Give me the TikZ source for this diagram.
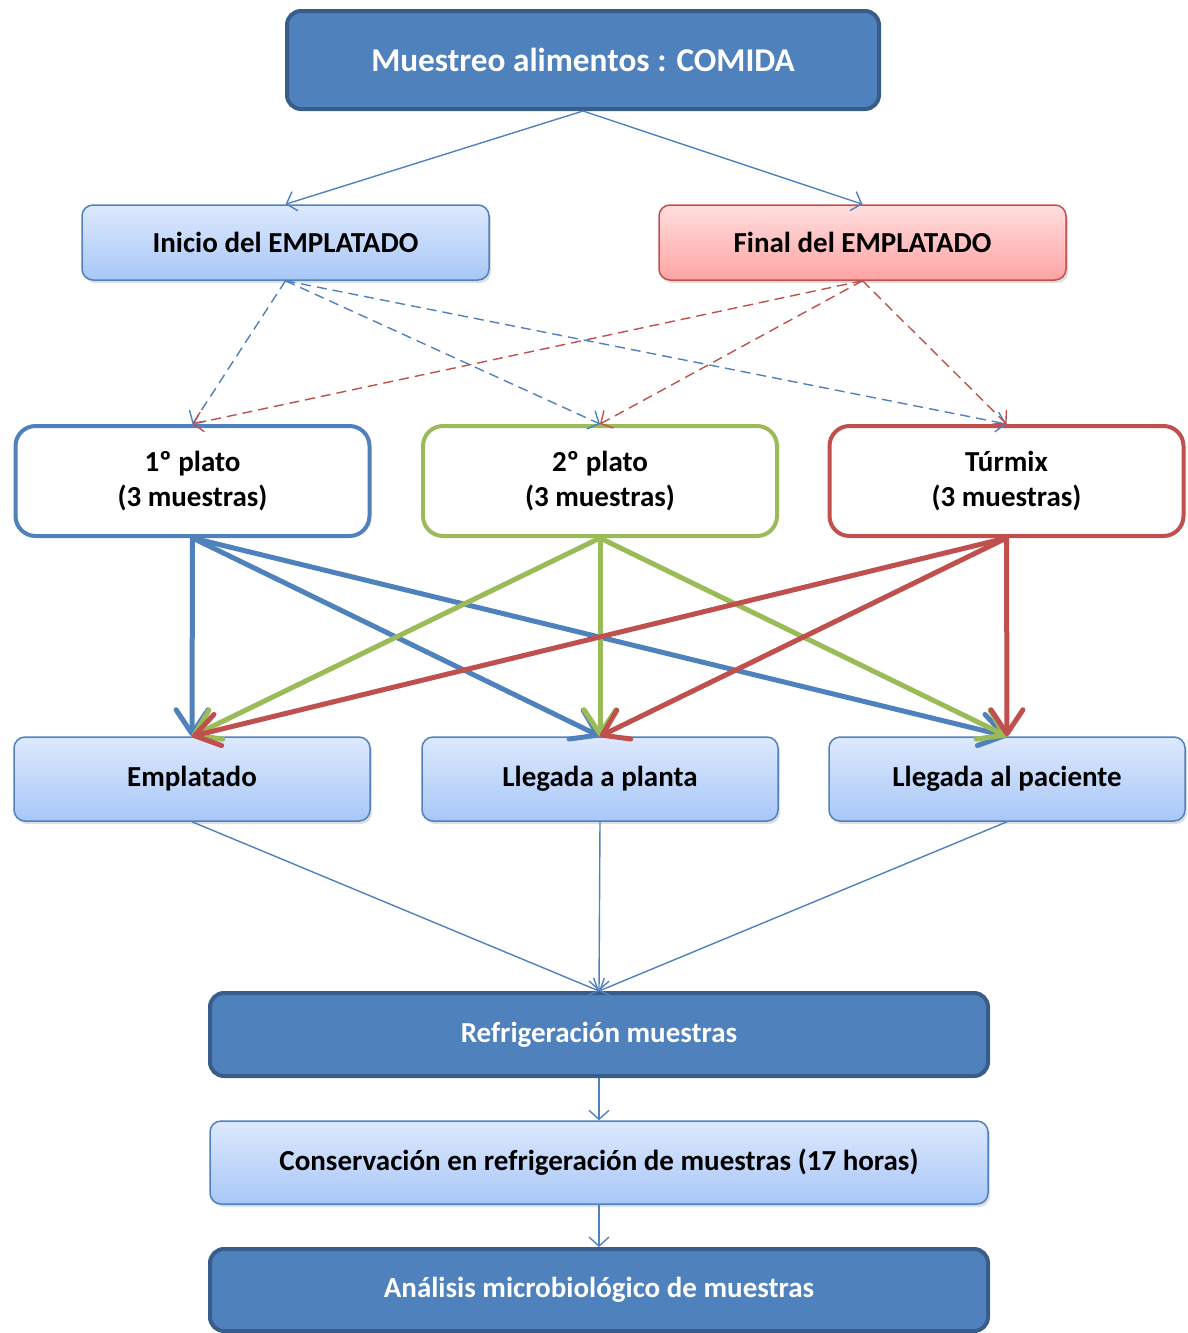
\documentclass[tikz,border=0pt]{standalone}
\usepackage{fontspec}
\setmainfont{Carlito}
\usetikzlibrary{arrows.meta,shadows}
\definecolor{accblue}{HTML}{4F81BD}
\definecolor{accbluedark}{HTML}{385D8A}
\definecolor{accgreen}{HTML}{9BBB59}
\definecolor{accred}{HTML}{C0504D}
\definecolor{lbtop}{HTML}{DDE9FD}
\definecolor{lbbot}{HTML}{A8C7F8}
\definecolor{lrtop}{HTML}{FFDEDE}
\definecolor{lrbot}{HTML}{FFA3A3}
\tikzset{
  txt/.style={font=\fontsize{29}{35}\selectfont\bfseries, align=center},
  darkbox/.style={txt, draw=accbluedark, line width=4pt, fill=accblue,
    text=white, rounded corners=14pt},
  lightbox/.style={txt, draw=accblue, line width=1.5pt, rounded corners=11pt,
    top color=lbtop, bottom color=lbbot,
    drop shadow={opacity=0.25, shadow xshift=2pt, shadow yshift=-3pt}},
  pinkbox/.style={lightbox, draw=accred, top color=lrtop, bottom color=lrbot},
  platebox/.style={txt, line width=4pt, fill=white, rounded corners=20pt,
    minimum width=354pt, minimum height=110pt},
  thin/.style={accblue, line width=1.4pt, -{Straight Barb[length=9pt,width=20pt]}},
  dashblue/.style={accblue, line width=1.4pt, dash pattern=on 10pt off 6pt,
    -{Straight Barb[length=9pt,width=20pt]}},
  dashred/.style={dashblue, accred},
  thick/.style={line width=5pt, -{Straight Barb[length=24pt,width=32pt,round]}},
}
\begin{document}
\begin{tikzpicture}[x=1pt,y=-1pt]
\useasboundingbox (0,0) rectangle (1187,1333);

% top and second row
\node[darkbox, minimum width=592pt, minimum height=98pt,
  font=\fontsize{33.3}{40}\selectfont\bfseries] (top) at (583,60) {Muestreo alimentos : COMIDA};
\node[lightbox, minimum width=407pt, minimum height=75pt] (ini) at (285.5,242.5) {Inicio del EMPLATADO};
\node[pinkbox, minimum width=407pt, minimum height=75pt] (fin) at (862.5,242.5) {Final del EMPLATADO};

% the three dishes
\node[platebox, draw=accblue] (p1) at (192.5,481) {1º plato\\(3 muestras)};
\node[platebox, draw=accgreen] (p2) at (600,481) {2º plato\\(3 muestras)};
\node[platebox, draw=accred] (p3) at (1006.5,481) {Túrmix\\(3 muestras)};

% sampling moments
\node[lightbox, minimum width=356pt, minimum height=84pt] (s1) at (192,779) {Emplatado};
\node[lightbox, minimum width=356pt, minimum height=84pt] (s2) at (600,779) {Llegada a planta};
\node[lightbox, minimum width=356pt, minimum height=84pt] (s3) at (1007,779) {Llegada al paciente};

% final steps
\node[darkbox, minimum width=778pt, minimum height=83pt] (refr) at (599,1034.5) {Refrigeración muestras};
\node[lightbox, minimum width=778pt, minimum height=83pt] (cons) at (599,1162.5) {Conservación en refrigeración de muestras (17 horas)};
\node[darkbox, minimum width=778pt, minimum height=82pt] (anal) at (599,1290) {Análisis microbiológico de muestras};

% connectors
\draw[thin] (top.south) -- (ini.north);
\draw[thin] (top.south) -- (fin.north);

\foreach \p in {p1,p2,p3} {
  \draw[dashblue] (ini.south) -- (\p.north);
  \draw[dashred] (fin.south) -- (\p.north);
}

\foreach \s in {s1,s2,s3} \draw[thick, accblue] (p1.south) -- (\s.north);
\foreach \s in {s1,s2,s3} \draw[thick, accgreen] (p2.south) -- (\s.north);
\foreach \s in {s1,s2,s3} \draw[thick, accred] (p3.south) -- (\s.north);

\foreach \s in {s1,s2,s3} \draw[thin] (\s.south) -- (refr.north);
\draw[thin] (refr.south) -- (cons.north);
\draw[thin] (cons.south) -- (anal.north);
\end{tikzpicture}
\end{document}
